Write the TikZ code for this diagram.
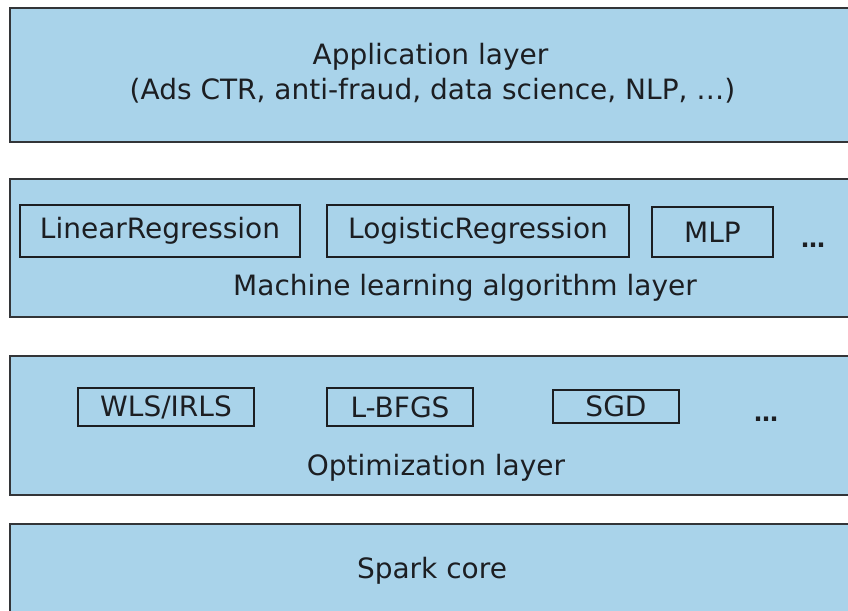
\documentclass[tikz,border=0pt]{standalone}
\usepackage{fontspec}
\setmainfont{DejaVu Sans}
\definecolor{layerblue}{RGB}{169,211,234}
\definecolor{ink}{RGB}{28,30,34}
\begin{document}
\begin{tikzpicture}[x=1pt,y=-1pt,
  layer/.style={draw=ink!90,line width=1.6pt,fill=layerblue,anchor=north west,inner sep=0pt},
  algo/.style={draw=ink,line width=1.4pt,inner sep=0pt,font=\fontsize{28}{31}\selectfont,text=ink},
  txt/.style={inner sep=0pt,font=\fontsize{28}{31}\selectfont,text=ink},
  dots/.style={inner sep=0pt,font=\fontsize{24}{28}\selectfont\bfseries,text=ink}]
\useasboundingbox (0,0) rectangle (848,610);
\clip (0,0) rectangle (848,610);
\fill[white] (0,0) rectangle (848,610);
% layers
\node[layer,minimum width=843pt,minimum height=134pt] (app) at (9,7) {};
\node[layer,minimum width=843pt,minimum height=138pt] (ml) at (9,178) {};
\node[layer,minimum width=843pt,minimum height=139pt] (opt) at (9,355) {};
\node[layer,minimum width=843pt,minimum height=100pt] (core) at (9,523) {};
% application
\node[txt,anchor=base] (apptitle) at (430.5,65) {Application layer};
\node[txt,anchor=base] (appsub) at (432.5,99) {(Ads CTR, anti-fraud, data science, NLP, …)};
% ML
\node[algo,minimum width=280pt,minimum height=52pt] (linreg) at (160,231) {LinearRegression};
\node[algo,minimum width=302pt,minimum height=52pt] (logreg) at (478,231) {LogisticRegression};
\node[algo,minimum width=121pt,minimum height=50pt] (mlp) at (712.5,232) {MLP};
\node[dots,anchor=base] (mldots) at (813,247) {…};
\node[txt,anchor=base] (mllabel) at (465,295) {Machine learning algorithm layer};
% optimization
\node[algo,minimum width=176pt,minimum height=38pt] (wls) at (166,407) {WLS/IRLS};
\node[algo,minimum width=146pt,minimum height=38pt] (lbfgs) at (400,407) {L-BFGS};
\node[algo,minimum width=126pt,minimum height=33pt] (sgd) at (616,406.5) {SGD};
\node[dots,anchor=base] (optdots) at (766,421) {…};
\node[txt,anchor=base] (optlabel) at (436,475) {Optimization layer};
% core
\node[txt,anchor=base] (corelabel) at (432,578) {Spark core};
\end{tikzpicture}
\end{document}
